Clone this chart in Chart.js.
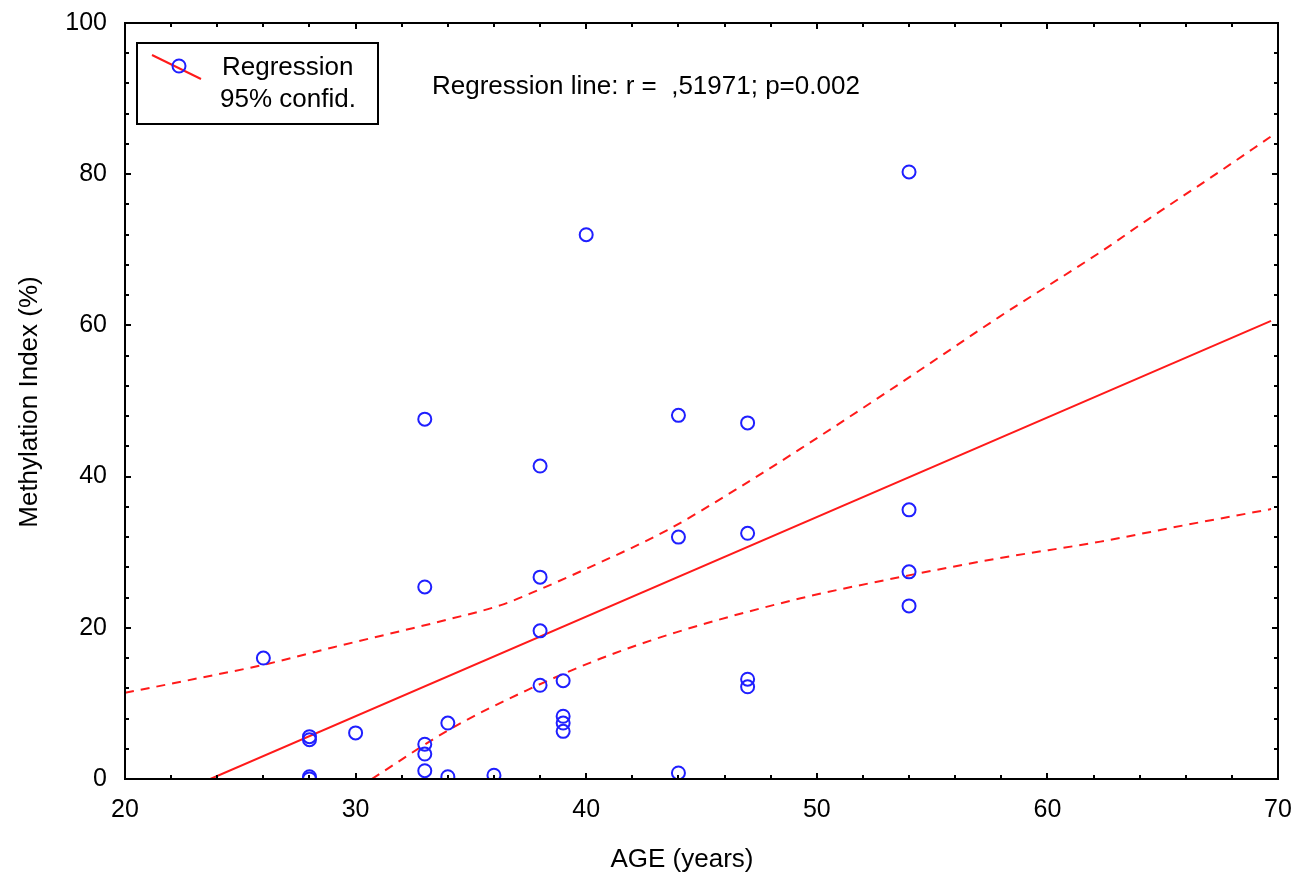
<!DOCTYPE html>
<html>
<head>
<meta charset="utf-8">
<script src="https://cdn.jsdelivr.net/npm/chart.js@4.4.1/dist/chart.umd.min.js"></script>
<style>
  html, body { margin: 0; padding: 0; background: #ffffff; }
  #wrap { position: relative; width: 1294px; height: 876px; }
</style>
</head>
<body>
<div id="wrap"><canvas id="c" width="1294" height="876"></canvas></div>
<script>
// ---- Data ----
const ageX  = [26, 28, 28, 28, 28, 30, 33, 33, 33, 33, 33, 34, 34, 36, 38, 38, 38, 38, 39, 39, 39, 39, 40, 44, 44, 44, 47, 47, 47, 47, 54, 54, 54, 54];
const methY = [16.0, 5.6, 5.2, 0.3, 0.0, 6.1, 47.6, 25.4, 4.6, 3.3, 1.1, 7.4, 0.3, 0.5, 41.4, 26.7, 19.6, 12.4, 13.0, 8.3, 7.4, 6.3, 72.0, 48.1, 32.0, 0.8, 47.1, 32.5, 13.2, 12.2, 80.3, 35.6, 27.4, 22.9];

const regX = [23.7, 69.7];
const regY = [0, 60.6];

const upperX = [20, 23.3, 26, 29, 32, 34, 36.3, 38, 40, 43.5, 46.5, 49.3, 53.6, 57.9, 62.3, 64.4, 67.4, 69.7];
const upperY = [11.4, 13.4, 15.1, 17.4, 19.6, 21.1, 23.0, 25.1, 27.8, 32.9, 38.3, 43.7, 52.3, 61.1, 69.7, 74.1, 80.2, 85.0];

const lowerX = [30.7, 34.1, 37.4, 40.6, 43.9, 49.3, 53.6, 57.9, 62.3, 66.0, 69.7];
const lowerY = [0, 6.6, 11.7, 15.9, 19.4, 23.9, 26.7, 29.2, 31.4, 33.6, 35.7];

const xTickLabels = [20, 30, 40, 50, 60, 70];
const yTickLabels = [0, 20, 40, 60, 80, 100];

const xTitle = 'AGE (years)';
const yTitle = 'Methylation Index (%)';
const legendLabels = ['Regression', '95% confid.'];
const noteText = 'Regression line: r =  ,51971; p=0.002';

// ---- Helpers ----
const pts = (xs, ys) => xs.map((x, i) => ({ x: x, y: ys[i] }));
const FONT = '"Liberation Sans", Arial, sans-serif';
const BLUE = '#1f1fff';
const RED = '#ff1a1a';

const decorPlugin = {
  id: 'decor',
  afterDraw(chart) {
    const { ctx, chartArea: a, scales } = chart;
    const xs = scales.x, ys = scales.y;
    ctx.save();
    ctx.strokeStyle = '#000';
    ctx.lineWidth = 2;
    ctx.strokeRect(a.left, a.top, a.right - a.left, a.bottom - a.top);
    for (let v = 20; v <= 70; v += 2) {
      const px = Math.round(xs.getPixelForValue(v));
      const len = (v % 10 === 0) ? 6 : 4;
      ctx.beginPath();
      ctx.moveTo(px, a.bottom); ctx.lineTo(px, a.bottom - len);
      ctx.moveTo(px, a.top); ctx.lineTo(px, a.top + len);
      ctx.stroke();
    }
    for (let v = 0; v <= 100; v += 4) {
      const py = Math.round(ys.getPixelForValue(v));
      const len = (v % 20 === 0) ? 6 : 4;
      ctx.beginPath();
      ctx.moveTo(a.left, py); ctx.lineTo(a.left + len, py);
      ctx.moveTo(a.right, py); ctx.lineTo(a.right - len, py);
      ctx.stroke();
    }
    ctx.fillStyle = '#000';
    ctx.font = '26px ' + FONT;
    ctx.textAlign = 'center';
    ctx.textBaseline = 'middle';
    ctx.fillText(xTitle, 682, 860);
    ctx.save();
    ctx.translate(30, 402);
    ctx.rotate(-Math.PI / 2);
    ctx.fillText(yTitle, 0, 0);
    ctx.restore();
    // legend box
    ctx.lineWidth = 2;
    ctx.strokeStyle = '#000';
    ctx.strokeRect(137, 43, 241, 81);
    ctx.strokeStyle = RED;
    ctx.beginPath();
    ctx.moveTo(152, 55); ctx.lineTo(201, 79);
    ctx.stroke();
    ctx.strokeStyle = BLUE;
    ctx.beginPath();
    ctx.arc(179, 66, 6.5, 0, Math.PI * 2);
    ctx.stroke();
    ctx.fillStyle = '#000';
    ctx.textAlign = 'left';
    ctx.fillText(legendLabels[0], 222, 68);
    ctx.fillText(legendLabels[1], 220, 100);
    ctx.fillText(noteText, 432, 87);
    ctx.restore();
  }
};

new Chart(document.getElementById('c'), {
  type: 'scatter',
  data: {
    datasets: [
      {
        label: 'Regression',
        data: pts(ageX, methY),
        showLine: false,
        pointStyle: 'circle',
        pointRadius: 6.5,
        pointBorderWidth: 2,
        pointBorderColor: BLUE,
        pointBackgroundColor: 'rgba(0,0,0,0)',
        pointHoverRadius: 6.5
      },
      {
        label: 'Regression line',
        data: pts(regX, regY),
        showLine: true,
        borderColor: RED,
        borderWidth: 2,
        pointRadius: 0,
        fill: false
      },
      {
        label: '95% confid. upper',
        data: pts(upperX, upperY),
        showLine: true,
        borderColor: RED,
        borderWidth: 2,
        borderDash: [9, 7],
        pointRadius: 0,
        cubicInterpolationMode: 'monotone',
        fill: false
      },
      {
        label: '95% confid. lower',
        data: pts(lowerX, lowerY),
        showLine: true,
        borderColor: RED,
        borderWidth: 2,
        borderDash: [9, 7],
        pointRadius: 0,
        cubicInterpolationMode: 'monotone',
        fill: false
      }
    ]
  },
  options: {
    responsive: false,
    animation: false,
    events: [],
    layout: { padding: { left: 0, right: 16, top: 23, bottom: 0 } },
    plugins: {
      legend: { display: false },
      tooltip: { enabled: false },
      title: { display: false }
    },
    scales: {
      x: {
        type: 'linear',
        min: 20, max: 70,
        grid: { display: false },
        border: { display: false },
        afterFit(scale) { scale.height = 97; scale.paddingLeft = 0; scale.paddingRight = 0; },
        afterBuildTicks(scale) { scale.ticks = xTickLabels.map(v => ({ value: v })); },
        ticks: {
          color: '#000',
          font: { size: 25, family: FONT },
          padding: 8,
          maxRotation: 0,
          autoSkip: false
        }
      },
      y: {
        type: 'linear',
        min: 0, max: 100,
        grid: { display: false },
        border: { display: false },
        afterFit(scale) { scale.width = 125; scale.paddingTop = 0; scale.paddingBottom = 0; },
        afterBuildTicks(scale) { scale.ticks = yTickLabels.map(v => ({ value: v })); },
        ticks: {
          color: '#000',
          font: { size: 25, family: FONT },
          padding: 10,
          autoSkip: false
        }
      }
    }
  },
  plugins: [decorPlugin]
});
</script>
</body>
</html>
